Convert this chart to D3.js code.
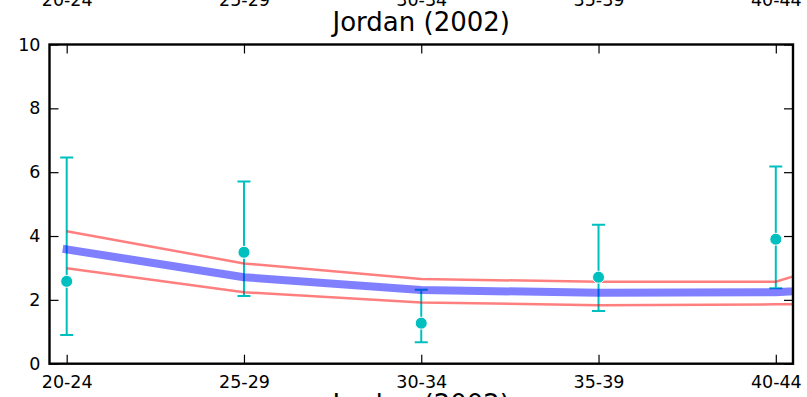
<!DOCTYPE html>
<html><head><meta charset="utf-8">
<script src="https://cdn.jsdelivr.net/npm/d3@7"></script>
<style>html,body{margin:0;padding:0;background:#fff;}svg{display:block;font-family:"DejaVu Sans",sans-serif;}</style>
</head><body>
<script>
// ---- data ----
const title = "Jordan (2002)";
const ageGroups = ["20-24", "25-29", "30-34", "35-39", "40-44"];
const obsValue = [2.58, 3.49, 1.27, 2.71, 3.90];
const obsLow   = [0.90, 2.12, 0.67, 1.65, 2.36];
const obsHigh  = [6.46, 5.71, 2.32, 4.35, 6.18];
// model curves (last point = next age group "45-49", beyond the visible range)
const modelAges  = ["20-24", "25-29", "30-34", "35-39", "40-44", "45-49"];
const modelMid   = [3.58, 2.71, 2.31, 2.22, 2.24, 2.55];
const modelUpper = [4.15, 3.14, 2.65, 2.57, 2.57, 4.24];
const modelLower = [2.99, 2.24, 1.92, 1.83, 1.86, 1.86];
const yTicks = [0, 2, 4, 6, 8, 10];

// ---- layout ----
const W = 807, H = 397;
const L = 49.5, R = 793, T = 44.5, B = 363.7;
const FS = 17.5;
const svg = d3.select("body").append("svg").attr("width", W).attr("height", H);

const x = d3.scaleLinear().domain([-0.097, 4.097]).range([L, R]);
const y = d3.scaleLinear().domain([0, 10]).range([B, T]);

svg.append("defs").append("clipPath").attr("id", "clip")
  .append("rect").attr("x", L).attr("y", T).attr("width", R - L).attr("height", B - T);

const plot = svg.append("g").attr("clip-path", "url(#clip)");

// error bars
const cyan = "#00bfbf";
const eb = plot.append("g");
ageGroups.forEach((a, i) => {
  const cx = x(i);
  eb.append("line").attr("x1", cx).attr("x2", cx).attr("y1", y(obsLow[i])).attr("y2", y(obsHigh[i]))
    .attr("stroke", cyan).attr("stroke-width", 2);
  [obsLow[i], obsHigh[i]].forEach(v => {
    eb.append("line").attr("x1", cx - 6.5).attr("x2", cx + 6.5).attr("y1", y(v)).attr("y2", y(v))
      .attr("stroke", cyan).attr("stroke-width", 2);
  });
});

const line = d3.line().x((d, i) => x(i)).y(d => y(d));
plot.append("path").attr("d", line(modelUpper)).attr("fill", "none")
  .attr("stroke", "#ff0000").attr("stroke-opacity", 0.5).attr("stroke-width", 2.5);
plot.append("path").attr("d", line(modelLower)).attr("fill", "none")
  .attr("stroke", "#ff0000").attr("stroke-opacity", 0.5).attr("stroke-width", 2.5);
plot.append("path").attr("d", line(modelMid)).attr("fill", "none")
  .attr("stroke", "#0000ff").attr("stroke-opacity", 0.5).attr("stroke-width", 8)
  .attr("stroke-linecap", "square").attr("stroke-linejoin", "round");

// markers
plot.selectAll("circle.obs").data(obsValue).enter().append("circle")
  .attr("cx", (d, i) => x(i)).attr("cy", d => y(d)).attr("r", 6)
  .attr("fill", cyan).attr("stroke", "#fff").attr("stroke-width", 1);

// axes (ticks inward)
const tickFmt = i => ageGroups[i];
const xb = d3.axisBottom(x).tickValues(d3.range(ageGroups.length)).tickFormat(tickFmt).tickSizeInner(-9).tickSizeOuter(0).tickPadding(12);
const xt = d3.axisTop(x).tickValues(d3.range(ageGroups.length)).tickFormat(tickFmt).tickSizeInner(-9).tickSizeOuter(0).tickPadding(39);
const yl = d3.axisLeft(y).tickValues(yTicks).tickSizeInner(-9).tickSizeOuter(0).tickPadding(9);
const yr = d3.axisRight(y).tickValues(yTicks).tickFormat("").tickSizeInner(-9).tickSizeOuter(0);

function style(g) {
  g.attr("font-size", FS).attr("font-family", "DejaVu Sans");
  g.select(".domain").remove();
  g.selectAll(".tick line").attr("stroke", "#000").attr("stroke-width", 1.2);
  g.selectAll("text").attr("font-size", FS).attr("font-family", "DejaVu Sans").attr("fill", "#000");
}
svg.append("g").attr("transform", `translate(0,${B})`).call(xb).call(style);
svg.append("g").attr("transform", `translate(0,${T})`).call(xt).call(style);
svg.append("g").attr("transform", `translate(${L},0)`).call(yl).call(style);
svg.append("g").attr("transform", `translate(${R},0)`).call(yr).call(style);

// frame
svg.append("rect").attr("x", L).attr("y", T).attr("width", R - L).attr("height", B - T)
  .attr("fill", "none").attr("stroke", "#000").attr("stroke-width", 2.4);

// titles
svg.append("text").attr("x", (L + R) / 2).attr("y", 31).attr("text-anchor", "middle")
  .attr("font-size", 26).attr("font-family", "DejaVu Sans").text(title);
svg.append("text").attr("x", (L + R) / 2).attr("y", 413).attr("text-anchor", "middle")
  .attr("font-size", 26).attr("font-family", "DejaVu Sans").text(title);
</script>
</body></html>
